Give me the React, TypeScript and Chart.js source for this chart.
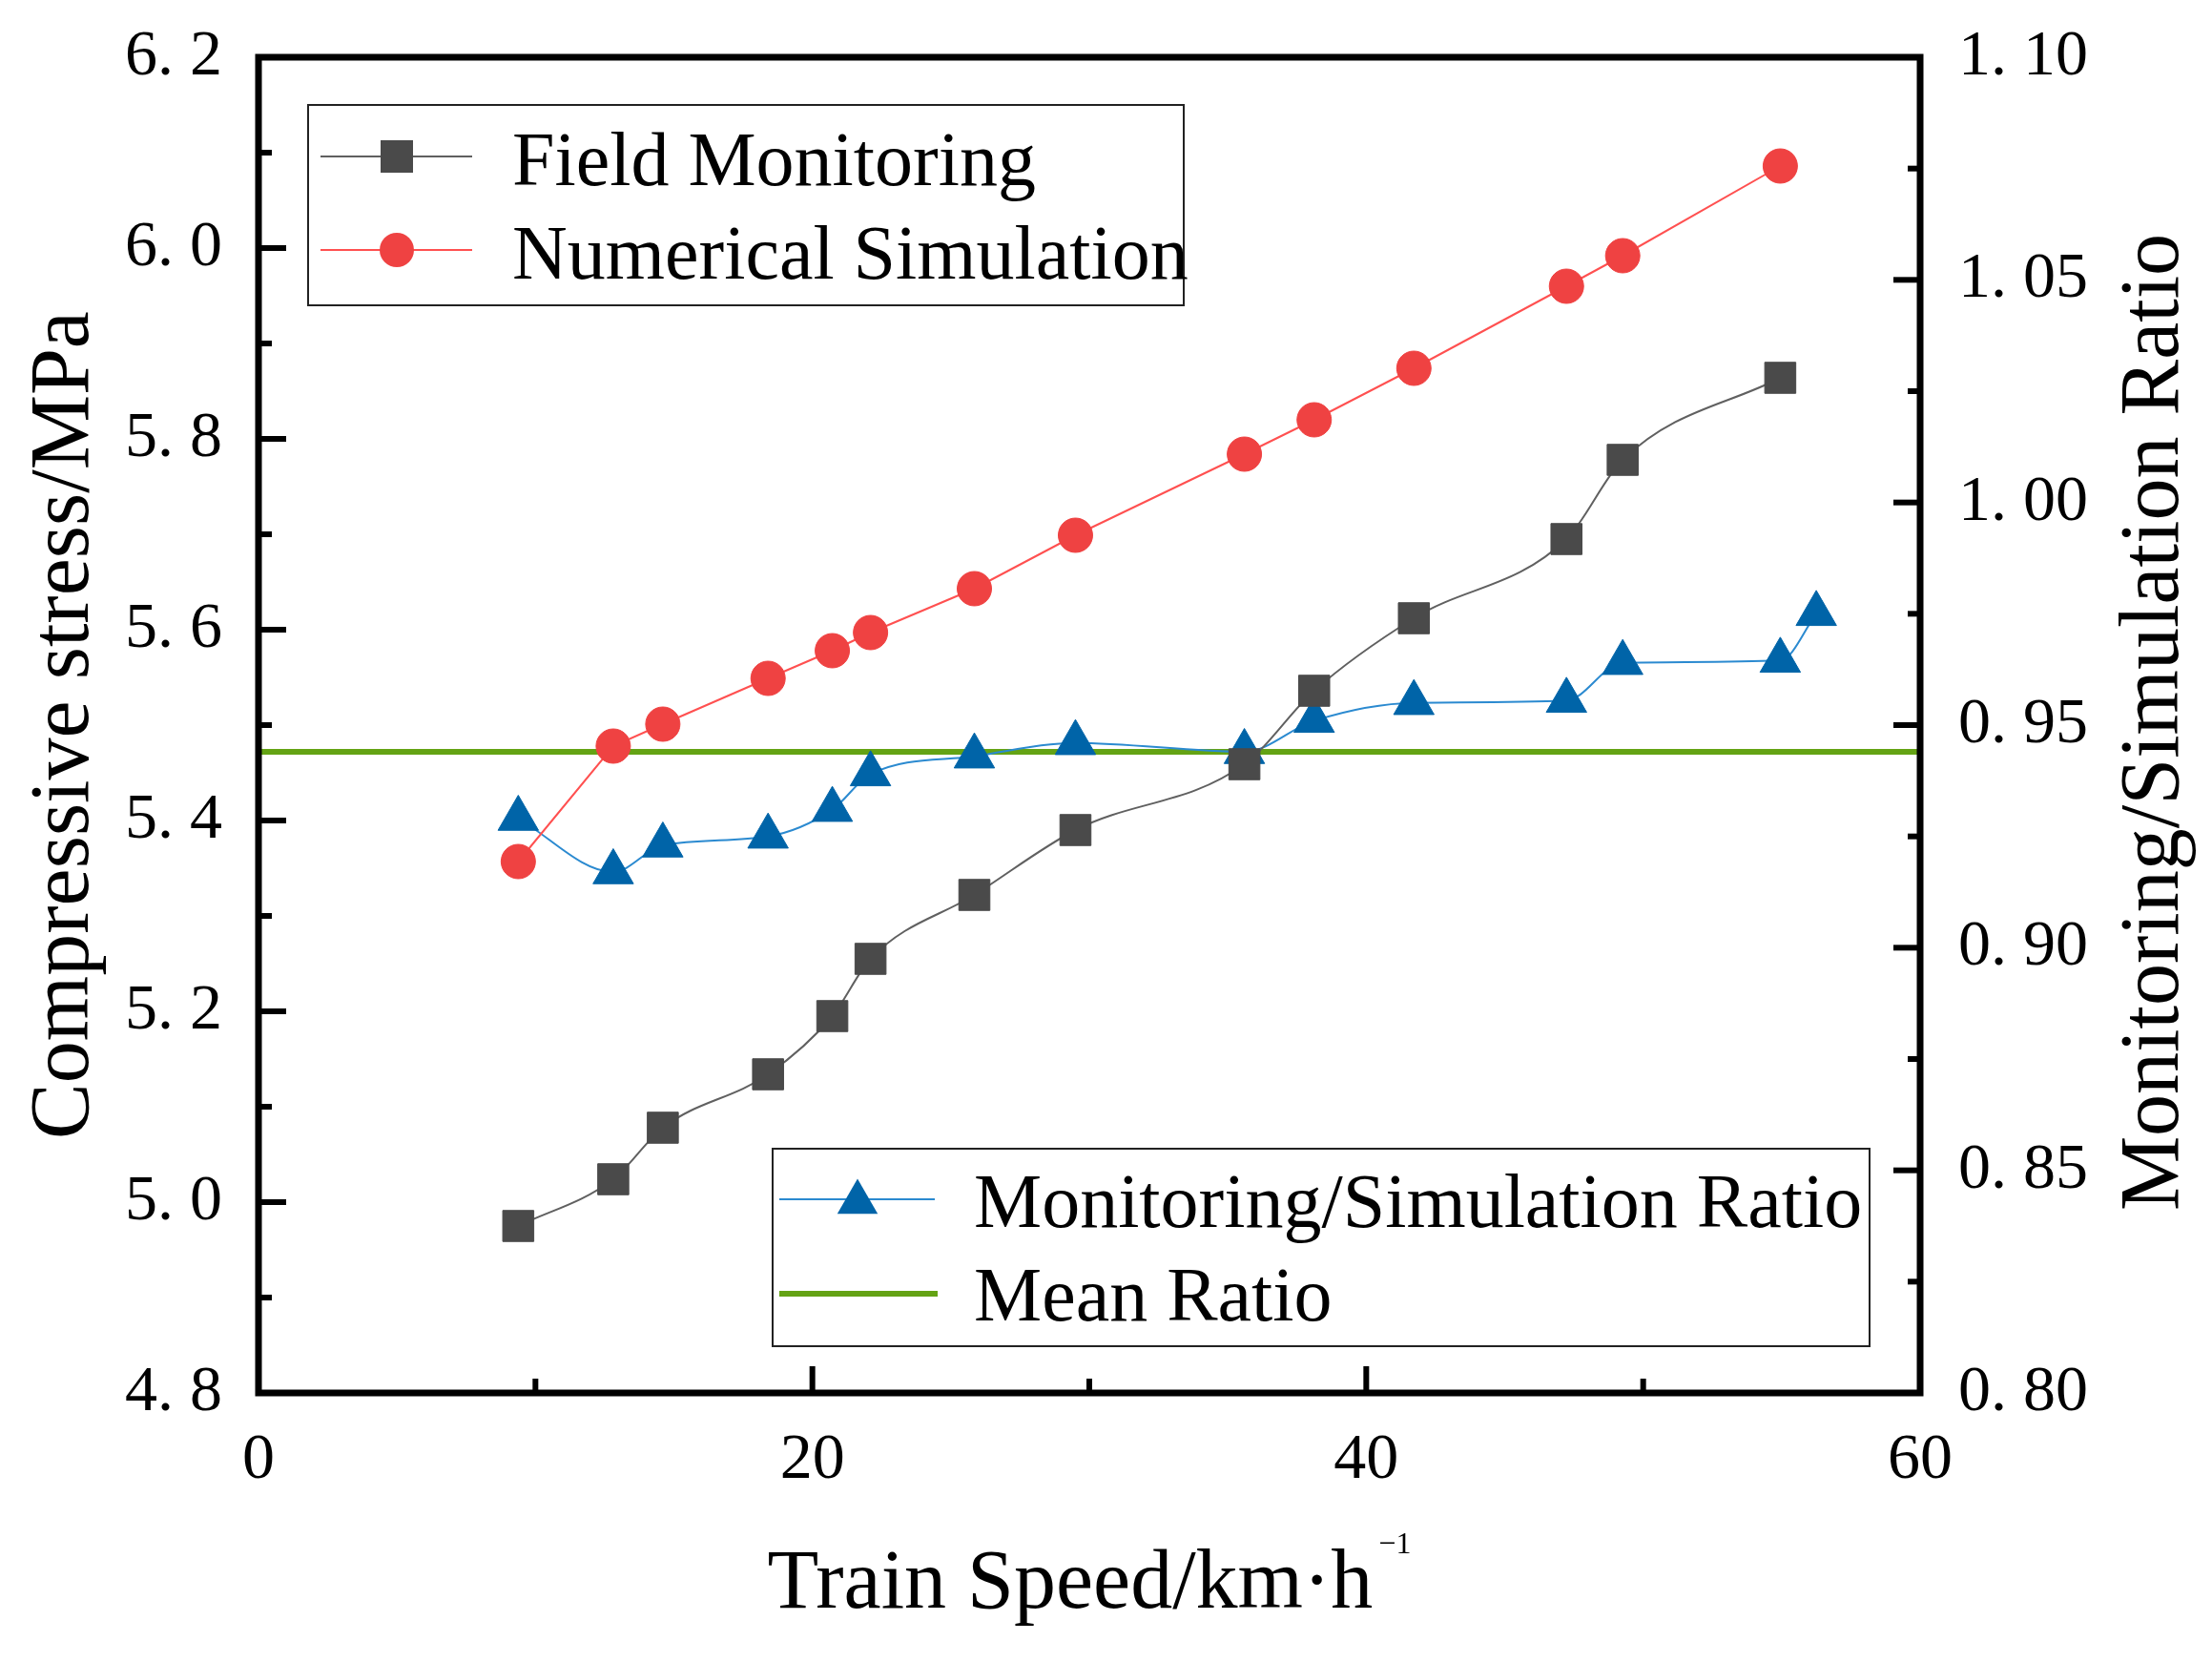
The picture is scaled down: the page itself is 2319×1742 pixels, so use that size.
import React, { useEffect, useRef } from "react";
import { Chart, registerables, Plugin } from "chart.js";

Chart.register(...registerables);

// values
const speeds = [9.38, 12.81, 14.6, 18.4, 20.72, 22.1, 25.85, 29.5, 35.6, 38.12, 41.72, 47.23, 49.26, 54.95];
const fieldMonitoring = [4.975, 5.024, 5.078, 5.134, 5.195, 5.255, 5.322, 5.39, 5.459, 5.536, 5.612, 5.695, 5.778, 5.864];
const numericalSimulation = [5.357, 5.478, 5.501, 5.549, 5.578, 5.597, 5.643, 5.699, 5.784, 5.82, 5.874, 5.96, 5.992, 6.086];
const ratioSpeeds = [...speeds, 56.25];
const ratioValues = [0.929, 0.917, 0.923, 0.925, 0.931, 0.939, 0.943, 0.946, 0.944, 0.951, 0.955, 0.9555, 0.964, 0.9645, 0.975];
const meanRatio = 0.944;

const xRange = [0, 60];
const stressRange = [4.8, 6.2];
const ratioRange = [0.8, 1.1];

const SERIF = "'Liberation Serif', 'Times New Roman', serif";
const GRAY = "#4a4a4a";
const RED = "#ef4242";
const BLUE = "#0064a8";
const GREEN = "#64a314";

const toPoints = (xs: number[], ys: number[]) => xs.map((x, i) => ({ x, y: ys[i] }));

// frame, inward tick marks, axis titles and the two legend boxes
const decorations: Plugin = {
  id: "decorations",
  afterDraw(chart) {
    const { ctx, chartArea: a } = chart;
    const xs = chart.scales.x;
    const yl = chart.scales.y;
    const yr = chart.scales.y1;
    ctx.save();
    ctx.strokeStyle = "#000";
    ctx.lineCap = "butt";

    // tick marks
    ctx.lineWidth = 6;
    const tick = (x1: number, y1: number, x2: number, y2: number) => {
      ctx.beginPath();
      ctx.moveTo(x1, y1);
      ctx.lineTo(x2, y2);
      ctx.stroke();
    };
    for (let i = 1; i < 14; i++) {
      const py = yl.getPixelForValue(stressRange[0] + i * 0.1);
      tick(a.left, py, a.left + (i % 2 === 0 ? 29 : 14), py);
    }
    for (let i = 1; i < 12; i++) {
      const py = yr.getPixelForValue(ratioRange[0] + i * 0.025);
      tick(a.right, py, a.right - (i % 2 === 0 ? 28 : 13), py);
    }
    for (let i = 1; i < 6; i++) {
      const px = xs.getPixelForValue(i * 10);
      tick(px, a.bottom, px, a.bottom - (i % 2 === 0 ? 28 : 15));
    }

    // frame
    ctx.lineWidth = 7;
    ctx.strokeRect(a.left, a.top, a.right - a.left, a.bottom - a.top);

    // axis titles
    ctx.fillStyle = "#000";
    ctx.font = `88px ${SERIF}`;
    ctx.textAlign = "center";
    ctx.textBaseline = "alphabetic";
    ctx.save();
    ctx.translate(92, (a.top + a.bottom) / 2);
    ctx.rotate(-Math.PI / 2);
    ctx.fillText("Compressive stress/MPa", 0, 0);
    ctx.restore();
    ctx.save();
    ctx.translate(2283, (a.top + a.bottom) / 2 - 3);
    ctx.rotate(-Math.PI / 2);
    ctx.fillText("Monitoring/Simulation Ratio", 0, 0);
    ctx.restore();

    const main = "Train Speed/km\u00b7h";
    const sup = "\u22121";
    ctx.font = `88px ${SERIF}`;
    const w1 = ctx.measureText(main).width;
    ctx.font = `32px ${SERIF}`;
    const w2 = ctx.measureText(sup).width;
    const x0 = (a.left + a.right) / 2 - (w1 + w2 + 6) / 2;
    ctx.textAlign = "left";
    ctx.font = `88px ${SERIF}`;
    ctx.fillText(main, x0, 1685);
    ctx.font = `32px ${SERIF}`;
    ctx.fillText(sup, x0 + w1 + 6, 1628);

    // legend helpers
    const box = (x: number, y: number, w: number, h: number) => {
      ctx.fillStyle = "#fff";
      ctx.fillRect(x, y, w, h);
      ctx.strokeStyle = "#222";
      ctx.lineWidth = 2;
      ctx.strokeRect(x, y, w, h);
    };
    const sample = (x1: number, x2: number, y: number, color: string, lw: number) => {
      ctx.strokeStyle = color;
      ctx.lineWidth = lw;
      ctx.beginPath();
      ctx.moveTo(x1, y);
      ctx.lineTo(x2, y);
      ctx.stroke();
    };
    const label = (text: string, x: number, y: number) => {
      ctx.fillStyle = "#000";
      ctx.font = `80px ${SERIF}`;
      ctx.textAlign = "left";
      ctx.textBaseline = "alphabetic";
      ctx.fillText(text, x, y);
    };

    box(323, 110, 918, 210);
    sample(336, 495, 164, "#606060", 2);
    ctx.fillStyle = GRAY;
    ctx.fillRect(416 - 17, 164 - 17, 34, 34);
    label("Field Monitoring", 537, 194);
    sample(336, 495, 262, "#ff5050", 2);
    ctx.fillStyle = RED;
    ctx.beginPath();
    ctx.arc(416, 262, 18, 0, Math.PI * 2);
    ctx.fill();
    label("Numerical Simulation", 537, 292);

    box(810, 1204, 1150, 207);
    sample(817, 980, 1257, "#2b8ad0", 2);
    ctx.fillStyle = BLUE;
    ctx.beginPath();
    const r = 24.5;
    const cy = 1260;
    ctx.moveTo(899, cy - r);
    ctx.lineTo(899 + r * Math.sin((2 * Math.PI) / 3), cy + r / 2);
    ctx.lineTo(899 - r * Math.sin((2 * Math.PI) / 3), cy + r / 2);
    ctx.closePath();
    ctx.fill();
    label("Monitoring/Simulation Ratio", 1021, 1286);
    sample(817, 983, 1356, GREEN, 6);
    label("Mean Ratio", 1021, 1384);

    ctx.restore();
  },
};

const App: React.FC = () => {
  const canvasRef = useRef<HTMLCanvasElement | null>(null);

  useEffect(() => {
    if (!canvasRef.current) return;
    const tickFont = { family: SERIF, size: 68 };

    const chart = new Chart(canvasRef.current, {
      type: "line",
      data: {
        datasets: [
          {
            label: "Field Monitoring",
            data: toPoints(speeds, fieldMonitoring),
            yAxisID: "y",
            borderColor: "#606060",
            borderWidth: 2,
            cubicInterpolationMode: "monotone",
            pointStyle: "rect",
            pointRadius: 23,
            pointBackgroundColor: GRAY,
            pointBorderColor: GRAY,
            pointBorderWidth: 1,
          },
          {
            label: "Numerical Simulation",
            data: toPoints(speeds, numericalSimulation),
            yAxisID: "y",
            borderColor: "#ff5050",
            borderWidth: 2,
            tension: 0,
            pointStyle: "circle",
            pointRadius: 18,
            pointBackgroundColor: RED,
            pointBorderColor: RED,
            pointBorderWidth: 1,
          },
          {
            label: "Monitoring/Simulation Ratio",
            data: toPoints(ratioSpeeds, ratioValues),
            yAxisID: "y1",
            borderColor: "#2b8ad0",
            borderWidth: 2,
            cubicInterpolationMode: "monotone",
            pointStyle: "triangle",
            pointRadius: 24.5,
            pointBackgroundColor: BLUE,
            pointBorderColor: BLUE,
            pointBorderWidth: 1,
          },
          {
            label: "Mean Ratio",
            data: toPoints(xRange, [meanRatio, meanRatio]),
            yAxisID: "y1",
            borderColor: GREEN,
            borderWidth: 6,
            pointRadius: 0,
          },
        ],
      },
      options: {
        animation: false,
        responsive: true,
        maintainAspectRatio: false,
        layout: { padding: { top: 60, left: 0, right: 0, bottom: 0 } },
        plugins: { legend: { display: false }, tooltip: { enabled: false } },
        scales: {
          x: {
            type: "linear",
            min: xRange[0],
            max: xRange[1],
            grid: { display: false, drawTicks: false },
            border: { display: false },
            ticks: { stepSize: 20, padding: 30, color: "#000", font: tickFont },
            afterFit: (s: any) => {
              s.height = 282;
              s.paddingLeft = 0;
              s.paddingRight = 0;
            },
          },
          y: {
            type: "linear",
            position: "left",
            min: stressRange[0],
            max: stressRange[1],
            grid: { display: false, drawTicks: false },
            border: { display: false },
            ticks: {
              stepSize: 0.2,
              padding: 38,
              color: "#000",
              font: tickFont,
              callback: (v) => Number(v).toFixed(1).replace(".", ". "),
            },
            afterFit: (s: any) => {
              s.width = 271;
              s.paddingTop = 0;
              s.paddingBottom = 0;
            },
          },
          y1: {
            type: "linear",
            position: "right",
            min: ratioRange[0],
            max: ratioRange[1],
            grid: { display: false, drawTicks: false },
            border: { display: false },
            ticks: {
              stepSize: 0.05,
              padding: 40,
              color: "#000",
              font: tickFont,
              callback: (v) => Number(v).toFixed(2).replace(".", ". "),
            },
            afterFit: (s: any) => {
              s.width = 306;
              s.paddingTop = 0;
              s.paddingBottom = 0;
            },
          },
        },
      },
      plugins: [decorations],
    });

    return () => {
      chart.destroy();
    };
  }, []);

  return (
    <div style={{ position: "absolute", left: 0, top: 0, width: 2319, height: 1742, background: "#fff" }}>
      <canvas ref={canvasRef} />
    </div>
  );
};

export default App;
